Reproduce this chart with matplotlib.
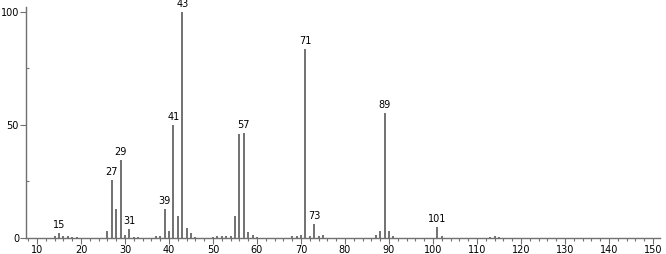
import matplotlib
matplotlib.use("Agg")
import matplotlib.pyplot as plt
from matplotlib.ticker import MultipleLocator, FixedLocator

mz = [14, 15, 16, 17, 18, 19, 26, 27, 28, 29, 30, 31, 32, 33, 37, 38, 39, 40, 41, 42,
      43, 44, 45, 46, 50, 51, 52, 53, 54, 55, 56, 57, 58, 59, 60, 68, 69, 70, 71, 72,
      73, 74, 75, 87, 88, 89, 90, 91, 101, 102, 113, 114, 115]
intensity = [0.8, 2.2, 0.8, 0.8, 0.6, 0.6, 2.9, 25.7, 12.8, 34.5, 1.5, 3.9, 0.6, 0.6, 0.8, 1.0, 12.8, 2.9, 50.0, 9.9,
             100.0, 4.4, 2.2, 0.6, 0.6, 0.8, 0.8, 1.0, 0.8, 9.7, 46.0, 46.5, 2.6, 1.2, 0.6, 0.8, 0.8, 1.5, 83.6, 0.8,
             6.2, 0.8, 1.5, 1.2, 3.2, 55.3, 3.0, 0.8, 4.9, 1.0, 0.6, 0.8, 0.6]
labeled = [15, 27, 29, 31, 39, 41, 43, 57, 71, 73, 89, 101]
x_ticks = list(range(10, 151, 10))
y_ticks = [0, 50, 100]

fig = plt.figure(figsize=(6.66, 2.54), dpi=100)
ax = fig.add_axes([26/666, 16/254, 634/666, 231/254])

ax.vlines(mz, 0, intensity, colors="#4a4a4a", linewidth=1.1)
lookup = dict(zip(mz, intensity))
for m in labeled:
    ax.text(m, lookup[m] + 1.2, str(m), ha="center", va="bottom", fontsize=7, color="black")

ax.set_xlim(7.5, 151.6)
ax.set_ylim(0, 102.2)
for s in ["top", "right"]:
    ax.spines[s].set_visible(False)
for s in ["left", "bottom"]:
    ax.spines[s].set_color("#707070")
    ax.spines[s].set_linewidth(1.0)

ax.xaxis.set_major_locator(FixedLocator(x_ticks))
ax.xaxis.set_minor_locator(MultipleLocator(2))
ax.yaxis.set_major_locator(FixedLocator(y_ticks))
ax.yaxis.set_minor_locator(FixedLocator([25, 75]))
ax.tick_params(axis="x", which="major", length=4, width=0.8, color="#707070", labelsize=7, pad=1)
ax.tick_params(axis="x", which="minor", length=2, width=0.8, color="#707070")
ax.tick_params(axis="y", which="major", length=4, width=0.8, color="#707070", labelsize=7, pad=1)
ax.tick_params(axis="y", which="minor", direction="in", length=2, width=0.8, color="#707070")

fig.savefig("out.png", dpi=100)
